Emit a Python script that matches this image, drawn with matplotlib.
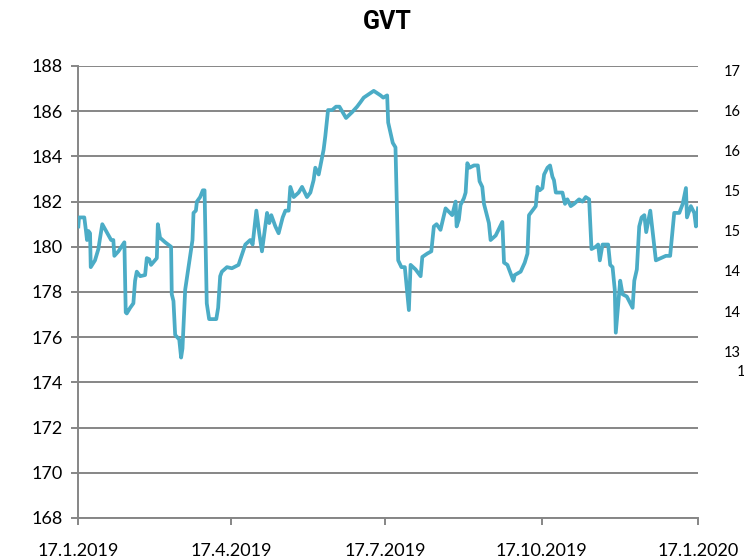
import datetime as dt
import matplotlib
matplotlib.use("Agg")
import matplotlib.pyplot as plt

plt.rcParams['font.family'] = ['Lato', 'DejaVu Sans']

# days after 17.1.2019
days = [0.2, 0.6, 3.7, 4.7, 5.3, 6.1, 7.1, 7.5, 10.0, 12.0, 12.6, 14.3, 16.9, 19.5,
        20.8, 21.4, 23.8, 27.3, 28.1, 28.7, 30.7, 32.6, 33.6, 34.6, 36.6, 39.5,
        40.5, 41.9, 43.0, 46.4, 47.0, 48.3, 51.3, 54.8, 55.2, 56.2, 57.2, 59.6,
        60.7, 61.5, 63.1, 67.4, 68.0, 69.4, 70.0, 71.9, 73.5, 74.5, 75.8, 77.2,
        81.4, 82.5, 83.7, 84.7, 87.7, 90.6, 94.5, 98.5, 101.4, 102.8, 105.0,
        106.7, 108.3, 111.3, 112.6, 113.8, 116.2, 118.1, 120.5, 122.1, 124.0,
        125.0, 127.0, 129.9, 131.9, 134.8, 136.8, 138.7, 139.7, 141.7, 144.6,
        145.6, 147.2, 149.6, 151.9, 153.9, 157.8, 161.4, 164.3, 166.3, 168.2,
        170.2, 172.2, 174.1, 176.1, 178.1, 179.7, 182.0, 182.6, 185.3, 186.9,
        188.5, 190.4, 192.4, 194.8, 195.8, 198.7, 201.7, 202.7, 205.6, 208.0,
        209.5, 211.1, 213.4, 216.4, 220.3, 222.3, 222.9, 224.2, 225.2, 227.2,
        228.2, 229.2, 230.5, 233.1, 235.4, 236.4, 238.0, 239.0, 241.9, 242.9,
        245.9, 249.8, 250.8, 252.8, 256.3, 257.1, 260.6, 263.0, 264.6, 265.5,
        267.5, 269.5, 270.5, 271.8, 273.4, 274.4, 276.4, 277.9, 279.3, 280.2,
        281.3, 282.6, 285.2, 286.7, 288.1, 290.1, 292.0, 295.0, 297.0, 298.9,
        300.9, 302.3, 304.8, 306.2, 307.2, 308.8, 312.1, 313.3, 314.7, 316.0,
        316.6, 319.2, 320.6, 323.1, 325.1, 326.5, 327.5, 329.0, 330.4, 331.8,
        333.4, 334.5, 336.9, 340.2, 343.2, 346.1, 348.6, 350.1, 351.0, 354.0,
        356.0, 357.9, 358.5, 360.8, 362.8, 363.8, 365.0]
gvt = [180.9, 181.3, 181.3, 180.7, 180.3, 180.7, 180.6, 179.1, 179.4, 179.9,
       180.2, 181.0, 180.65, 180.3, 180.3, 179.6, 179.8, 180.2, 177.1, 177.05,
       177.3, 177.5, 178.5, 178.9, 178.7, 178.75, 179.5, 179.45, 179.2, 179.5,
       181.0, 180.4, 180.2, 180.0, 177.9, 177.6, 176.1, 175.9, 175.1, 175.5,
       178.1, 180.3, 181.5, 181.6, 182.0, 182.2, 182.5, 182.5, 177.5, 176.8,
       176.8, 177.3, 178.7, 178.9, 179.1, 179.05, 179.2, 180.1, 180.3, 180.1,
       181.6, 180.6, 179.8, 181.5, 181.05, 181.4, 180.9, 180.6, 181.3, 181.6,
       181.6, 182.65, 182.2, 182.4, 182.65, 182.2, 182.4, 182.95, 183.5, 183.2,
       184.3, 184.9, 186.05, 186.05, 186.2, 186.2, 185.7, 185.96, 186.2, 186.4,
       186.6, 186.7, 186.8, 186.9, 186.8, 186.7, 186.6, 186.7, 185.5, 184.6,
       184.4, 179.4, 179.1, 179.1, 177.2, 179.2, 179.0, 178.7, 179.55, 179.7,
       179.8, 180.9, 181.0, 180.75, 181.7, 181.4, 182.0, 180.9, 181.2, 181.85,
       182.15, 182.4, 183.7, 183.5, 183.6, 183.6, 182.9, 182.65, 181.9, 181.05,
       180.3, 180.5, 181.1, 179.3, 179.2, 178.5, 178.75, 178.9, 179.3, 179.7,
       181.4, 181.6, 181.8, 182.65, 182.5, 182.6, 183.2, 183.5, 183.6, 183.1,
       182.95, 182.4, 182.4, 182.4, 181.9, 182.1, 181.8, 181.9, 182.1, 182.0,
       182.2, 182.1, 179.9, 180.0, 180.1, 179.4, 180.1, 180.1, 179.2, 179.1,
       178.1, 176.2, 178.5, 177.9, 177.8, 177.5, 177.3, 178.5, 179.0, 180.9,
       181.3, 181.4, 180.65, 181.6, 179.4, 179.5, 179.6, 179.6, 180.8, 181.5,
       181.5, 181.9, 182.6, 181.3, 181.8, 181.5, 180.9, 181.7]

tick_dates = ['17.1.2019', '17.4.2019', '17.7.2019', '17.10.2019', '17.1.2020']
y_ticks = [168, 170, 172, 174, 176, 178, 180, 182, 184, 186, 188]

# what is visible of the neighbouring chart's labels at the right edge
side_labels = ['17', '16', '16', '15', '15', '14', '14', '13']

start = dt.datetime(2019, 1, 17)
x = [start + dt.timedelta(days=d) for d in days]
ticks = [dt.datetime.strptime(t, '%d.%m.%Y') for t in tick_dates]

grey = '#868686'
fig = plt.figure(figsize=(7.44, 5.58), dpi=100)
ax = fig.add_axes([78 / 744, 1 - 518 / 558, 620 / 744, 452 / 558])

ax.plot(x, gvt, color='#4BACC6', lw=2.7, solid_joinstyle='round', zorder=3)

ax.set_ylim(168, 188)
ax.set_yticks(y_ticks)
ax.set_xlim(start, ticks[-1])
ax.set_xticks(ticks)
ax.set_xticklabels(tick_dates)
ax.grid(axis='y', color=grey, lw=1.4)
ax.set_axisbelow(True)

for s in ['top', 'right']:
    ax.spines[s].set_visible(False)
for s in ['left', 'bottom']:
    ax.spines[s].set_color(grey)
    ax.spines[s].set_linewidth(1.4)
ax.tick_params(axis='both', colors=grey, length=5, width=1.4, labelsize=13,
               labelcolor='black')
ax.tick_params(axis='x', pad=13)
ax.tick_params(axis='y', pad=6)

fig.text(387 / 744, 1 - 22 / 558, 'GVT', ha='center', va='center',
         fontsize=18, fontweight='bold', family=['Roboto', 'DejaVu Sans'])

for i, lab in enumerate(side_labels):
    fig.text(724 / 744, 1 - (72 + 40.1 * i) / 558, lab, ha='left', va='center',
             fontsize=10.5)
fig.text(737 / 744, 1 - 372 / 558, '1', ha='left', va='center', fontsize=10.5)

fig.savefig('out.png', dpi=100)
